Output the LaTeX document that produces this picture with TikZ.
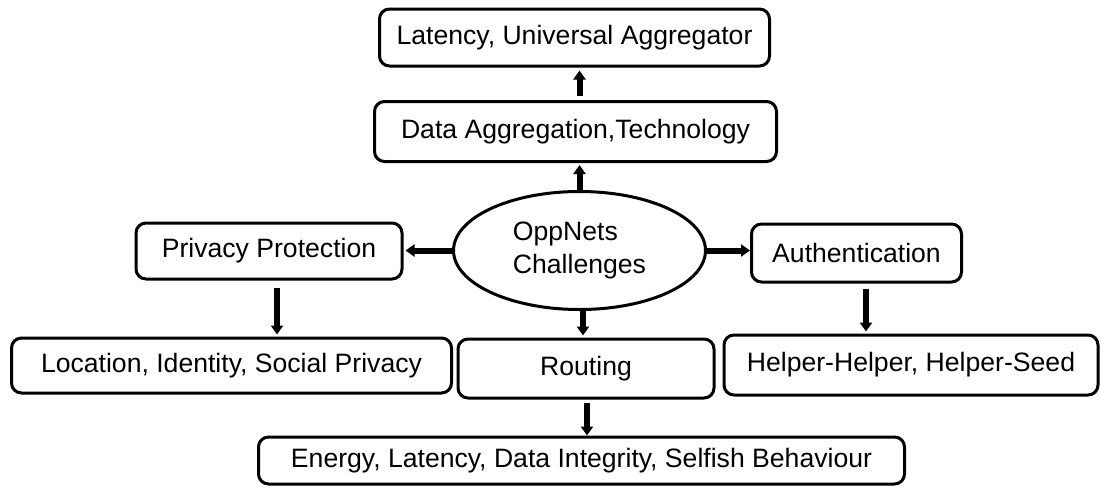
\documentclass[tikz,border=0pt]{standalone}
\usepackage{fontspec}
\setmainfont{Liberation Sans}
\usetikzlibrary{arrows.meta,shapes.geometric}

\begin{document}
\begin{tikzpicture}[
  x=0.5pt,y=-0.5pt,
  every node/.style={font=\fontsize{13.3}{16.5}\selectfont},
  box/.style={draw,line width=1.5pt,rounded corners=5pt,inner sep=0pt},
  oval/.style={draw,ellipse,line width=1.5pt,inner sep=0pt,align=left},
  arr/.style={-{Triangle[width=6pt,length=4.5pt]},line width=3pt}]
  \path[use as bounding box] (0,0) rectangle (1101,487);

  % Centre and the upper chain.
  \node[oval,minimum width=126pt,minimum height=59pt] (opp) at (579.5,250.5)
    {OppNets\\Challenges};
  \node[box,minimum width=201pt,minimum height=30pt] (dagg) at (575.5,131.5)
    {Data Aggregation,Technology};
  \node[box,minimum width=195pt,minimum height=28.5pt] (lat) at (574.5,37.5)
    {Latency, Universal Aggregator};

  % Left and right branches.
  \node[box,minimum width=133pt,minimum height=28pt] (priv) at (269,251)
    {Privacy Protection};
  \node[box,minimum width=105pt,minimum height=29pt] (auth) at (856.5,253)
    {Authentication};

  % Lower row.
  \node[box,minimum width=220pt,minimum height=27.5pt] (loc) at (231.5,365.5)
    {Location, Identity, Social Privacy};
  \node[box,minimum width=128pt,minimum height=29.5pt] (rout) at (586,368.5)
    {Routing};
  \node[box,minimum width=187pt,minimum height=30pt] (help) at (911,365)
    {Helper-Helper, Helper-Seed};
  \node[box,minimum width=323pt,minimum height=23.5pt] (ener) at (581.5,460.5)
    {Energy, Latency, Data Integrity, Selfish Behaviour};

  \draw[arr,shorten >=1pt] (opp.north) -- (opp.north |- dagg.south);
  \draw[arr,shorten <=2pt,shorten >=1.5pt]
    ([xshift=2pt]dagg.north) -- ([xshift=2pt]dagg.north |- lat.south);
  \draw[arr,shorten >=1pt] (opp.west) -- (opp.west -| priv.east);
  \draw[arr] (opp.east) -- (opp.east -| auth.west);
  \draw[arr,shorten <=3.5pt,shorten >=1pt]
    ([xshift=4pt]priv.south) -- ([xshift=4pt]priv.south |- loc.north);
  \draw[arr,shorten >=1pt]
    ([xshift=1.75pt]opp.south) -- ([xshift=1.75pt]opp.south |- rout.north);
  \draw[arr,shorten <=2.5pt,shorten >=1pt]
    ([xshift=4.75pt]auth.south) -- ([xshift=4.75pt]auth.south |- help.north);
  \draw[arr,shorten <=1.5pt]
    ([xshift=0.5pt]rout.south) -- ([xshift=0.5pt]rout.south |- ener.north);
\end{tikzpicture}
\end{document}
